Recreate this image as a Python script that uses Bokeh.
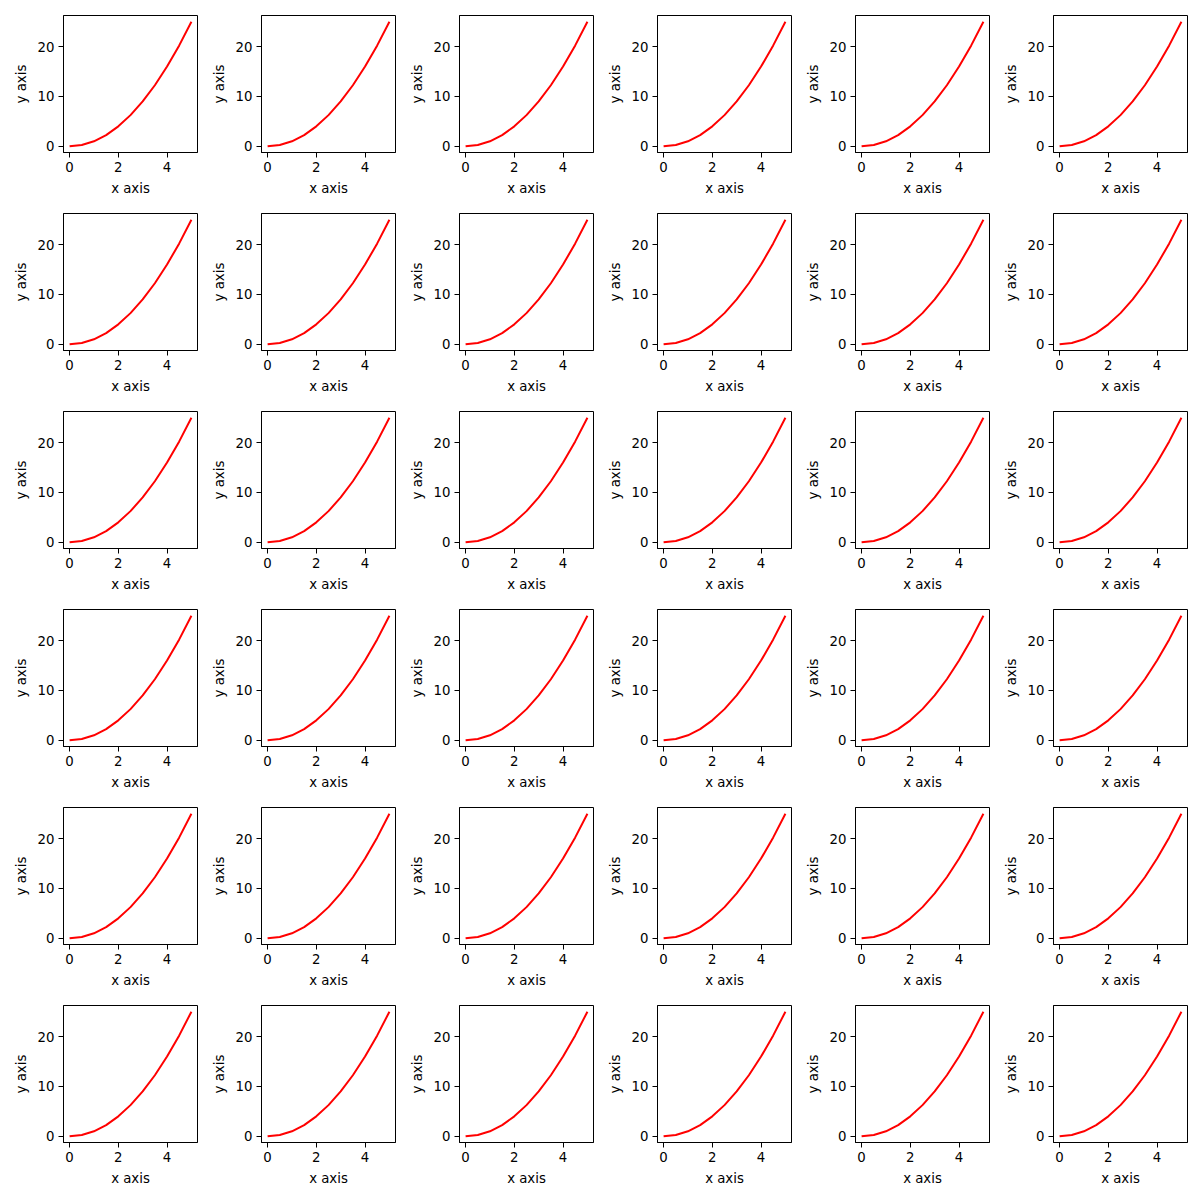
from bokeh.plotting import figure
from bokeh.layouts import gridplot
from bokeh.models import Range1d, FixedTicker
from bokeh.embed import file_html
from bokeh.resources import INLINE

# Data: y = x^2 sampled at 11 points (same curve in every panel)
x_vals = [0.0, 0.5, 1.0, 1.5, 2.0, 2.5, 3.0, 3.5, 4.0, 4.5, 5.0]
y_vals = [0.0, 0.25, 1.0, 2.25, 4.0, 6.25, 9.0, 12.25, 16.0, 20.25, 25.0]
x_ticks = [0, 2, 4]
y_ticks = [0, 10, 20]
x_label = "x axis"
y_label = "y axis"
n_rows = 6
n_cols = 6

FONT = "DejaVu Sans"

def make_panel():
    p = figure(width=198, height=198, output_backend="svg", toolbar_location=None,
               x_range=Range1d(-0.25, 5.25), y_range=Range1d(-1.25, 26.25),
               min_border_left=63, min_border_right=1, min_border_top=15, min_border_bottom=46)
    p.line(x_vals, y_vals, line_color="#ff0000", line_width=2)
    p.grid.visible = False
    p.outline_line_color = "black"
    p.outline_line_width = 1
    p.outline_line_alpha = 1
    p.background_fill_color = "white"
    p.border_fill_color = "white"
    p.xaxis.ticker = FixedTicker(ticks=x_ticks)
    p.yaxis.ticker = FixedTicker(ticks=y_ticks)
    p.xaxis.axis_label = x_label
    p.yaxis.axis_label = y_label
    for ax in (p.xaxis, p.yaxis):
        ax.axis_line_color = "black"
        ax.major_tick_line_color = "black"
        ax.major_tick_out = 5
        ax.major_tick_in = 0
        ax.minor_tick_line_color = None
        ax.major_label_text_font = FONT
        ax.major_label_text_font_size = "13.3px"
        ax.major_label_text_color = "black"
        ax.major_label_standoff = 4
        ax.axis_label_text_font = FONT
        ax.axis_label_text_font_size = "13.3px"
        ax.axis_label_text_font_style = "normal"
        ax.axis_label_text_color = "black"
        ax.axis_label_standoff = 6
    return p

rows = [[make_panel() for _ in range(n_cols)] for _ in range(n_rows)]
grid = gridplot(rows, toolbar_location=None)

open("out.html", "w").write(file_html(grid, INLINE))
